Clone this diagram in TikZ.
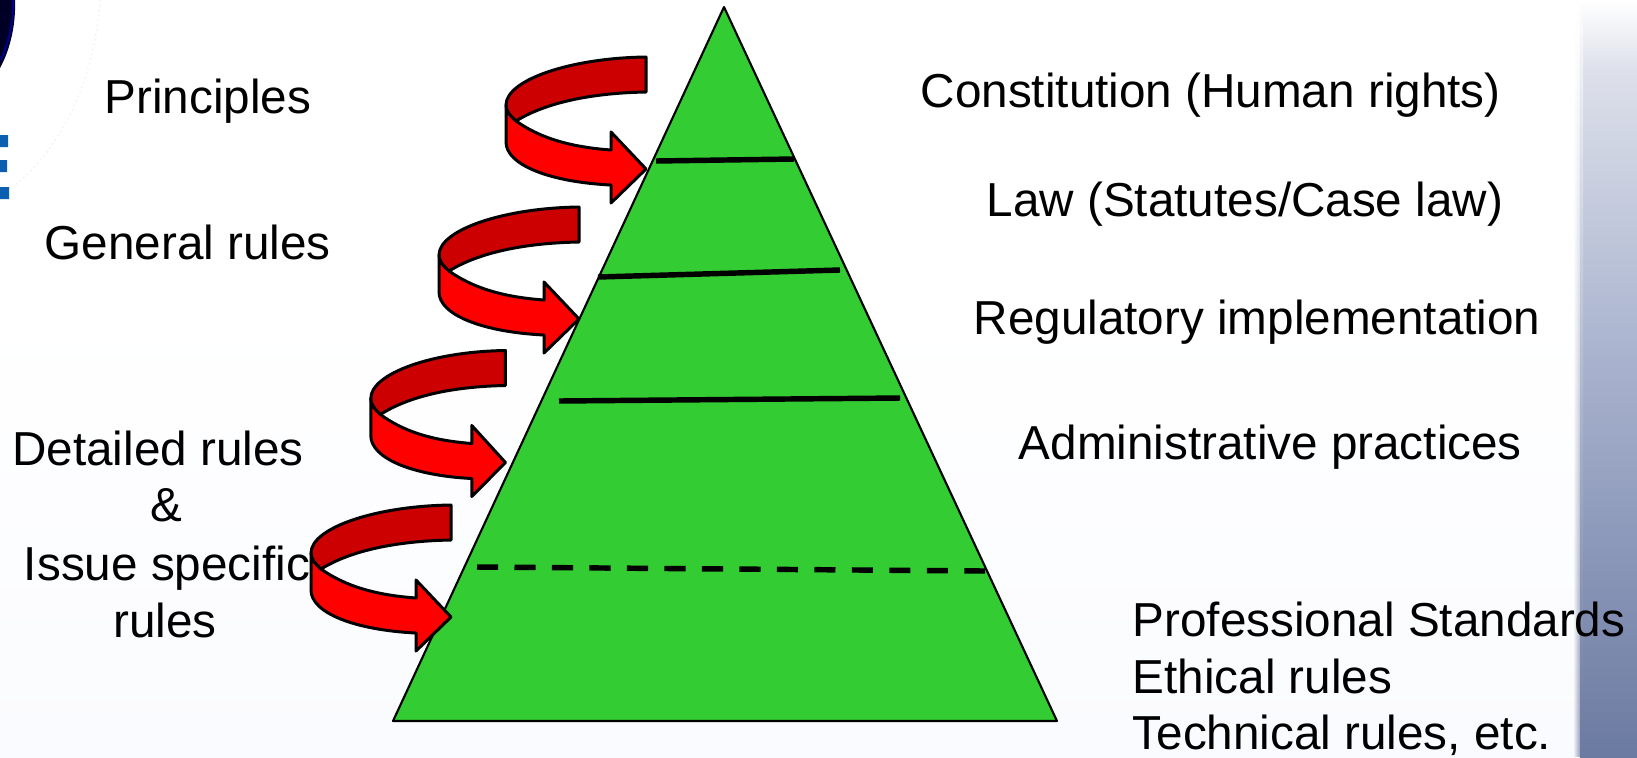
\documentclass[tikz,border=0pt]{standalone}
\usepackage{fontspec}
\setmainfont{Liberation Sans}
\usetikzlibrary{positioning,fadings}

\definecolor{pyramid}{HTML}{33CC33}
\definecolor{ribbonfront}{HTML}{FF0000}
\definecolor{ribbonback}{HTML}{CC0000}
\definecolor{panelhi}{HTML}{DDE0EA}
\definecolor{panelmid}{HTML}{AAB4CF}
\definecolor{panello}{HTML}{6B7AA1}
\definecolor{logoblue}{HTML}{0B5FAE}
\definecolor{pagelo}{HTML}{FAFBFE}

\begin{document}
\begin{tikzpicture}[x=0.01cm,y=-0.01cm,
    lbl/.style={anchor=base west,inner sep=0pt,font=\fontsize{13.55pt}{16pt}\selectfont},
    lblc/.style={lbl,anchor=base},
    level/.style={line width=1.55pt},
    band/.style={draw,line width=0.85pt,line join=round}]

\useasboundingbox (0,0) rectangle (1637,757);

% page and side panel
\shade [top color=white, bottom color=pagelo] (0,300) rectangle (1637,757);
\shade [top color=white, bottom color=panelhi] (1580,0) rectangle (1637,70);
\shade [top color=panelhi, bottom color=panelmid] (1580,70) rectangle (1637,350);
\shade [top color=panelmid, bottom color=panello] (1580,350) rectangle (1637,757);
\shade [top color=white, bottom color=panello, path fading=west] (1573,0) rectangle (1583,757);

% logo remains
\draw [black!6, densely dotted] (100,0) .. controls (95,80) and (60,150) .. (15,185);
\fill [black!85!blue] (15,0) .. controls (16,25) and (10,50) .. (0,68) -- (0,0) -- cycle;
\draw [blue!60!black, line width=0.5pt] (13,0) .. controls (14,20) and (9,42) .. (1,60);
\fill [logoblue] (0,135) rectangle (8,147) (0,160) rectangle (7,172) (0,187) rectangle (9,199);

% pyramid
\coordinate (apex) at (724,7);
\coordinate (baseL) at (393,721);
\coordinate (baseR) at (1057,721);
\draw [fill=pyramid,line width=0.6pt,line join=round] (apex) -- (baseL) -- (baseR) -- cycle;

\draw [level] (656,161) -- (794,159);
\draw [level] (598,277) -- (840,270);
\draw [level] (559,401) -- (900,398);
\draw [level,dash pattern=on 6pt off 4.66pt] (477,567) -- (985,571);

% left column
\node [lbl] (principles) at (104,113) {Principles};
\node [lbl] (general) at (44,259) {General rules};
\node [lblc] (detailed) at (158,465) {Detailed rules};
\node [lblc] (amp) at (166,521) {\&};
\node [lblc] (issue) at (167,580) {Issue specific};
\node [lblc] (rules) at (165,637) {rules};

% right column
\node [lbl] (constitution) at (920,107) {Constitution (Human rights)};
\node [lbl] (law) at (986,216) {Law (Statutes/Case law)};
\node [lbl] (regulatory) at (973,334) {Regulatory implementation};
\node [lbl] (admin) at (1018,459) {Administrative practices};
\node [lbl] (standards) at (1132,636) {Professional Standards};
\node [lbl] (ethical) at (1132,693) {Ethical rules};
\node [lbl] (technical) at (1132,749) {Technical rules, etc.};

% curved arrows
\foreach \dx/\dy/\sx in {0/0/1,-67/150/1,-116/293.5/0.962,-195/448/1} {
  \begin{scope}[shift={(\dx,\dy)},xscale=\sx]
  \draw [band,fill=ribbonback] (646,57) .. controls (570,58) and (506,80) .. (506,105)
      .. controls (506,111) and (510,116) .. (516,121)
      .. controls (545,103) and (590,93) .. (646,92) -- cycle;
  \draw [band,fill=ribbonfront] (506,105) -- (506,142)
      .. controls (506,165) and (550,182) .. (611,185) -- (611,203) -- (646,169)
      -- (611,132) -- (611,150) .. controls (570,147) and (540,138) .. (516,121)
      .. controls (510,116) and (506,111) .. (506,105) -- cycle;
  \end{scope}
}

\end{tikzpicture}
\end{document}
